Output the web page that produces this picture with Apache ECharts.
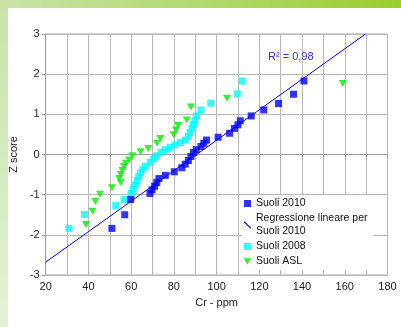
<!DOCTYPE html>
<html>
<head>
<meta charset="utf-8">
<script src="https://cdn.jsdelivr.net/npm/echarts@6/dist/echarts.min.js"></script>
<style>
html,body{margin:0;padding:0;background:#fff;}
#c{width:401px;height:327px;}
</style>
</head>
<body>
<div id="c"></div>
<script>
// ---- data ----
var suoli2010X = [51.0,57.0,59.8,68.8,69.8,71.0,72.0,73.0,76.0,80.2,83.7,85.3,86.8,88.0,89.2,90.5,92.7,94.0,95.3,100.7,106.1,108.4,110.0,111.1,116.2,122.1,129.0,136.0,140.9];
var suoli2010Z = [-1.84,-1.50,-1.12,-0.97,-0.88,-0.79,-0.70,-0.60,-0.52,-0.43,-0.33,-0.24,-0.15,-0.05,0.05,0.12,0.20,0.28,0.36,0.43,0.53,0.65,0.74,0.84,0.96,1.11,1.27,1.50,1.83];

var suoli2008X = [30.9,38.2,52.8,56.7,60.0,61.0,62.0,62.8,63.5,64.4,65.5,66.7,69.0,70.5,72.0,74.0,76.0,78.3,80.6,83.0,85.3,86.8,87.6,88.4,89.2,89.9,90.7,92.7,97.3,109.7,112.0];
var suoli2008Z = [-1.84,-1.49,-1.27,-1.12,-0.97,-0.86,-0.76,-0.65,-0.55,-0.46,-0.37,-0.29,-0.20,-0.11,-0.03,0.05,0.12,0.18,0.24,0.30,0.36,0.45,0.55,0.65,0.75,0.85,0.96,1.11,1.28,1.51,1.83];

var suoliAslX = [38.9,42.0,43.3,45.4,51.0,55.1,54.4,55.1,55.9,56.7,57.5,59.0,60.6,64.4,68.0,72.1,73.7,79.9,81.0,82.0,86.0,88.0,104.9,159.1];
var suoliAslZ = [-1.74,-1.41,-1.17,-0.99,-0.83,-0.70,-0.60,-0.50,-0.40,-0.30,-0.22,-0.14,-0.03,0.07,0.15,0.28,0.40,0.49,0.61,0.72,0.86,1.18,1.40,1.77];

// regression line endpoints (as drawn in the reference)
var regX = [20, 169.7];
var regZ = [-2.68, 3.0];

var seriesNames = ['Suoli 2010', 'Regressione lineare per\nSuoli 2010', 'Suoli 2008', 'Suoli ASL'];
var r2Label = 'R² = 0,98';
var xTitle = 'Cr - ppm';
var yTitle = 'Z score';

function pairs(xs, ys){ return xs.map(function(x,i){ return [x, ys[i]]; }); }

var triDown = 'path://M0,0L10,0L5,9Z';
var diag = 'path://M0,0L1.2,0L10,8.8L10,10L8.8,10L0,1.2Z';

var chart = echarts.init(document.getElementById('c'), null, {renderer:'canvas'});
var FONT = '"Liberation Sans", Arial, sans-serif';

chart.setOption({
  animation: false,
  backgroundColor: '#ffffff',
  graphic: [
    {type:'rect', z:-10, shape:{x:0,y:0,width:401,height:8},
     style:{fill:new echarts.graphic.LinearGradient(0,0,1,0,[{offset:0,color:'#c9e3a6'},{offset:0.5,color:'#b3d86f'},{offset:1,color:'#9acd2e'}])}},
    {type:'rect', z:-10, shape:{x:0,y:8,width:8,height:319},
     style:{fill:new echarts.graphic.LinearGradient(0,0,0,1,[{offset:0,color:'#c8e3a8'},{offset:1,color:'#e4f1d6'}])}},
    {type:'text', left:268, top:51, z:10,
     style:{text:r2Label, fill:'#3333cc', font:'11px ' + FONT}}
  ],
  grid: {left:42.5, right:13.5, top:34, bottom:52, containLabel:false,
         show:true, borderColor:'#a6a6a6', borderWidth:1},
  xAxis: {
    type:'value', min:20, max:180, interval:20,
    name: xTitle, nameLocation:'middle', nameGap:22,
    nameTextStyle:{fontFamily:FONT, fontSize:11, color:'#222'},
    axisLine:{show:true, lineStyle:{color:'#a0a0a0'}},
    axisTick:{show:true, length:4, lineStyle:{color:'#a0a0a0'}},
    minorTick:{show:true, splitNumber:2, length:4, lineStyle:{color:'#a0a0a0'}},
    axisLabel:{fontFamily:FONT, fontSize:11, color:'#222', margin:6},
    splitLine:{show:true, lineStyle:{color:'#b8b8b8', width:1}},
    minorSplitLine:{show:true, lineStyle:{color:'#b8b8b8', width:1}}
  },
  yAxis: {
    type:'value', min:-3, max:3, interval:1,
    name: yTitle, nameLocation:'middle', nameGap:21, nameRotate:90,
    nameTextStyle:{fontFamily:FONT, fontSize:11, color:'#222'},
    axisLine:{show:true, lineStyle:{color:'#a0a0a0'}},
    axisTick:{show:true, length:4, lineStyle:{color:'#a0a0a0'}},
    axisLabel:{fontFamily:FONT, fontSize:11, color:'#222', margin:6},
    splitLine:{show:true, lineStyle:{color:'#b8b8b8', width:1}}
  },
  legend: {
    orient:'vertical', left:242, top:195,
    backgroundColor:'#ffffff', padding:[2,6,2,2],
    itemWidth:7, itemHeight:7, itemGap:2,
    textStyle:{fontFamily:FONT, fontSize:10.5, color:'#111', lineHeight:13},
    data:[
      {name:seriesNames[0], icon:'rect'},
      {name:seriesNames[1], icon:diag},
      {name:seriesNames[2], icon:'rect'},
      {name:seriesNames[3], icon:triDown}
    ]
  },
  series: [
    {name:seriesNames[1], type:'line', data:pairs(regX, regZ), showSymbol:false, symbol:'none',
     lineStyle:{color:'#0000ff', width:1}, itemStyle:{color:'#0000ff'}, z:2, silent:true},
    {name:seriesNames[2], type:'scatter', data:pairs(suoli2008X, suoli2008Z), symbol:'rect', symbolSize:7,
     itemStyle:{color:'#00ffff'}, z:3},
    {name:seriesNames[3], type:'scatter', data:pairs(suoliAslX, suoliAslZ), symbol:triDown, symbolSize:[8,7],
     itemStyle:{color:'#00f000'}, z:3},
    {name:seriesNames[0], type:'scatter', data:pairs(suoli2010X, suoli2010Z), symbol:'rect', symbolSize:7,
     itemStyle:{color:'#0000ff'}, z:4}
  ]
});
</script>
</body>
</html>
